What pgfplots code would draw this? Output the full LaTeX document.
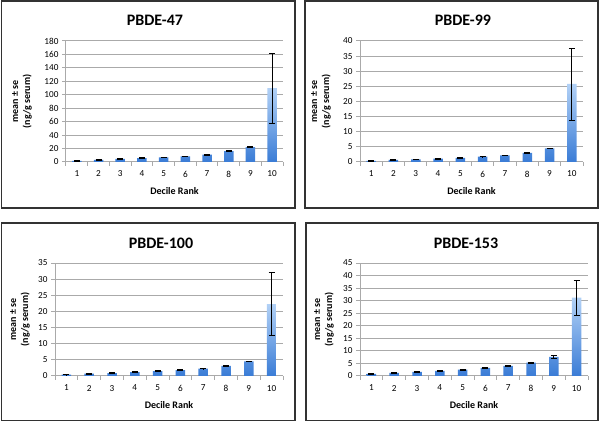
\documentclass[border=0pt]{standalone}
\usepackage{pgfplots}
\pgfplotsset{compat=1.18}
\usepackage{fontspec}
\setmainfont{Carlito}
\definecolor{gridc}{RGB}{170,170,170}
\definecolor{bartop}{RGB}{178,209,246}
\definecolor{barbot}{RGB}{58,124,214}
\definecolor{framec}{RGB}{50,50,50}

\pgfplotsset{
  panel/.style={
    scale only axis,
    anchor=south west,
    xmin=0.5, xmax=10.5,
    ymin=0,
    axis lines*=left,
    axis line style={-, gridc, line width=1pt},
    xtick={1,...,10},
    major x tick style={draw=none},
    minor xtick={0.5,1.5,...,10.5},
    minor x tick style={gridc, line width=1pt},
    minor tick length=4pt,
    major tick length=4pt,
    ytick style={gridc, line width=1pt},
    tick align=outside,
    ymajorgrids,
    grid style={gridc, line width=1pt},
    /pgf/number format/assume math mode=true,
    tick label style={font=\fontsize{9.2}{11}\selectfont, black},
    xticklabel style={yshift=-1.5pt},
    xlabel={Decile Rank},
    xlabel style={font=\bfseries\fontsize{10}{12}\selectfont, at={(axis description cs:0.5,0)}, anchor=center, yshift=-29pt},
    ylabel={mean ± se\\(ng/g serum)},
    ylabel style={font=\bfseries\fontsize{10}{12}\selectfont, align=center, at={(axis description cs:0,0.5)}, anchor=center},
    clip=false,
  },
  bars/.style={
    ybar, bar width=9.5pt, draw=none,
    top color=bartop, bottom color=barbot,
    error bars/.cd, y dir=both, y explicit,
    error bar style={black, line width=0.8pt},
    error mark options={black, line width=0.8pt, mark size=3pt, rotate=90},
  },
}

\begin{document}
\begin{tikzpicture}[x=1pt,y=1pt]
\path[use as bounding box] (0,0) rectangle (600,423);
\draw[framec, line width=1.4pt] (1.5,215) rectangle (295,421.8);
\draw[framec, line width=1.4pt] (305,215) rectangle (598,421.8);
\draw[framec, line width=1.4pt] (1.5,2.5) rectangle (295,200);
\draw[framec, line width=1.4pt] (306,2.5) rectangle (598,200);

% PBDE-47
\begin{axis}[panel, at={(66pt,261pt)}, width=217pt, height=121pt,
  ymax=180, ytick={0,20,...,180}, ylabel style={yshift=44pt}]
\addplot[bars] table[x=x, y=y, y error=e] {
x y e
1 1.8 0.3
2 3.3 0.4
3 4.5 0.5
4 5.8 0.5
5 6.9 0.5
6 8.3 0.6
7 10.8 0.7
8 16.0 0.8
9 22.2 1.0
10 109.8 51.8
};
\end{axis}
\node[font=\bfseries\fontsize{16}{19}\selectfont] at (155,403) {PBDE-47};

% PBDE-99
\begin{axis}[panel, at={(360pt,261pt)}, width=223pt, height=121pt,
  ymax=40, ytick={0,5,...,40}, ylabel style={yshift=39pt}]
\addplot[bars] table[x=x, y=y, y error=e] {
x y e
1 0.4 0.05
2 0.7 0.07
3 0.9 0.08
4 1.1 0.1
5 1.4 0.1
6 1.8 0.1
7 2.2 0.1
8 3.0 0.15
9 4.5 0.15
10 25.8 11.9
};
\end{axis}
\node[font=\bfseries\fontsize{16}{19}\selectfont] at (463,403) {PBDE-99};

% PBDE-100
\begin{axis}[panel, at={(55pt,47pt)}, width=228pt, height=113pt,
  ymax=35, ytick={0,5,...,35}, ylabel style={yshift=35pt}]
\addplot[bars] table[x=x, y=y, y error=e] {
x y e
1 0.4 0.05
2 0.7 0.07
3 0.9 0.08
4 1.2 0.1
5 1.5 0.1
6 1.8 0.1
7 2.3 0.1
8 3.1 0.1
9 4.5 0.1
10 22.3 9.7
};
\end{axis}
\node[font=\bfseries\fontsize{16}{19}\selectfont] at (161,180) {PBDE-100};

% PBDE-153
\begin{axis}[panel, at={(360pt,47pt)}, width=228pt, height=113pt,
  ymax=45, ytick={0,5,...,45}, ylabel style={yshift=36pt}]
\addplot[bars] table[x=x, y=y, y error=e] {
x y e
1 0.8 0.1
2 1.2 0.1
3 1.6 0.1
4 2.0 0.15
5 2.5 0.15
6 3.2 0.15
7 4.0 0.2
8 5.3 0.3
9 7.6 0.5
10 31.2 7.0
};
\end{axis}
\node[font=\bfseries\fontsize{16}{19}\selectfont] at (466,180) {PBDE-153};
\end{tikzpicture}
\end{document}
